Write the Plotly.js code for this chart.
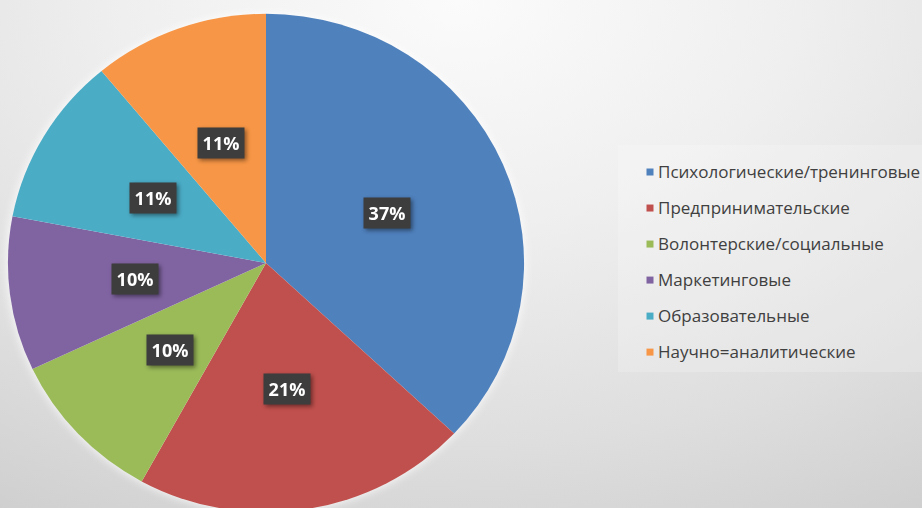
<!DOCTYPE html>
<html>
<head>
<meta charset="utf-8">
<script src="https://cdn.plot.ly/plotly-3.0.1.min.js"></script>
<style>
  html, body { margin:0; padding:0; width:922px; height:508px; overflow:hidden;
    background: radial-gradient(ellipse 105% 125% at 50% 0%, #fbfbfb 0%, #efefef 35%, #dedede 70%, #cbcbcb 100%); }
  #chart { width:940px; height:530px; }
  .pielayer { filter: drop-shadow(0 0 5px rgba(255,255,255,0.95));
    transform-box: fill-box; transform-origin: center; transform: scale(1.02, 0.985); }
  .annotation { filter: drop-shadow(2px 2px 2px rgba(0,0,0,0.45)); }
</style>
</head>
<body>
<div id="chart"></div>
<script>
// ---- data ----
const categories = [
  "Психологические/тренинговые",
  "Предпринимательские",
  "Волонтерские/социальные",
  "Маркетинговые",
  "Образовательные",
  "Научно=аналитические"
];
const values = [37, 21, 10, 10, 11, 11];
const colors = ["#4F81BD", "#C0504D", "#9BBB59", "#8064A2", "#4BACC6", "#F79646"];

// ---- layout geometry (px) ----
const W = 940, H = 530;
const CX = 266, CY = 263, R = 253;
const LABEL_R = 0.51;

const total = values.reduce((a, b) => a + b, 0);
let cum = 0;
const annotations = values.map((v, i) => {
  const mid = (cum + v / 2) / total * 2 * Math.PI; // clockwise from 12 o'clock
  cum += v;
  const px = CX + LABEL_R * R * 1.02 * Math.sin(mid);
  const py = CY - LABEL_R * R * 0.985 * Math.cos(mid);
  return {
    x: px / W, y: 1 - py / H, xref: 'paper', yref: 'paper',
    xanchor: 'center', yanchor: 'middle', showarrow: false,
    text: '<b>' + Math.round(v / total * 100) + '%</b>',
    font: { family: 'Open Sans, sans-serif', size: 18, color: '#ffffff' },
    bgcolor: '#3d3d3d', width: 46, height: 30, borderpad: 0
  };
});

const trace = {
  type: 'pie',
  labels: categories.map(c => '<span style="font-size:17px">' + c + '</span>'),
  values: values,
  sort: false,
  direction: 'clockwise',
  rotation: 0,
  textinfo: 'none',
  hoverinfo: 'none',
  marker: { colors: colors, line: { width: 0 } },
  domain: { x: [(CX - R) / W, (CX + R) / W], y: [(H - CY - R) / H, (H - CY + R) / H] }
};

const layout = {
  width: W, height: H,
  margin: { l: 0, r: 0, t: 0, b: 0 },
  paper_bgcolor: 'rgba(0,0,0,0)',
  plot_bgcolor: 'rgba(0,0,0,0)',
  showlegend: true,
  legend: {
    x: 618 / W, y: 1 - 145 / H, xanchor: 'left', yanchor: 'top',
    font: { family: 'Open Sans, sans-serif', size: 25.4, color: '#404040' },
    bgcolor: 'rgba(255,255,255,0.2)', borderwidth: 0
  },
  annotations: annotations
};

Plotly.newPlot('chart', [trace], layout, { staticPlot: true, displayModeBar: false }).then(() => {
  document.querySelectorAll('.legendpie').forEach(p => {
    p.setAttribute('d', 'M8.5,0.5h7v7h-7Z');
  });
});
</script>
</body>
</html>
